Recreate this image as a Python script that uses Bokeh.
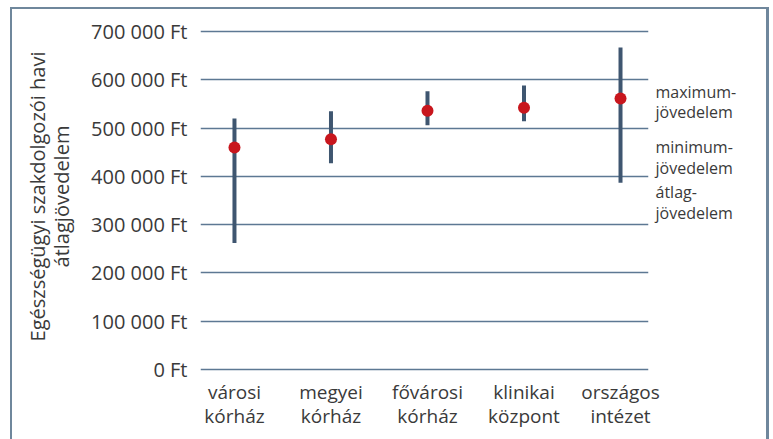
from bokeh.plotting import figure
from bokeh.models import Range1d, FixedTicker, LinearAxis
from bokeh.embed import file_html
from bokeh.resources import INLINE

# ---- data ----
categories = ["városi\nkórház", "megyei\nkórház", "fővárosi\nkórház", "klinikai\nközpont", "országos\nintézet"]
avg_income = [460000, 477000, 536000, 542000, 561000]
min_income = [262000, 427000, 506000, 514000, 387000]
max_income = [520000, 535000, 576000, 588000, 667000]
y_ticks = [0, 100000, 200000, 300000, 400000, 500000, 600000, 700000]
y_tick_labels = ["0 Ft", "100 000 Ft", "200 000 Ft", "300 000 Ft", "400 000 Ft",
                 "500 000 Ft", "600 000 Ft", "700 000 Ft"]
legend_texts = ["maximum-", "jövedelem", "minimum-", "jövedelem", "átlag-", "jövedelem"]
legend_y = [573700, 532300, 459800, 418300, 366600, 325100]

xs = list(range(len(categories)))
FONT = "Open Sans"
TXT = "#3a3a3a"
FRAME = "#6f879c"

p = figure(width=773, height=439, output_backend="svg", toolbar_location=None,
           x_range=Range1d(-0.352, 4.29), y_range=Range1d(-6213, 722781),
           min_border_left=200, min_border_right=125, min_border_top=20, min_border_bottom=67)
p.border_fill_color = None
p.background_fill_color = "white"
p.outline_line_color = None
p.styles = {"box-shadow": (f"inset 10px 0 0 #ffffff, inset 0 7px 0 #ffffff, inset -4px 0 0 #ffffff, "
                           f"inset 12px 0 0 {FRAME}, inset 0 9px 0 {FRAME}, inset -7px 0 0 {FRAME}"),
            "background-color": "white"}

# y axis
p.yaxis.ticker = FixedTicker(ticks=y_ticks)
p.yaxis.major_label_overrides = {t: l for t, l in zip(y_ticks, y_tick_labels)}
p.yaxis.axis_line_color = None
p.yaxis.major_tick_line_color = None
p.yaxis.minor_tick_line_color = None
p.yaxis.major_label_standoff = 7
p.yaxis.major_label_text_font = FONT
p.yaxis.major_label_text_font_size = "20px"
p.yaxis.major_label_text_color = TXT
p.yaxis.axis_label = "Egészségügyi szakdolgozói havi\nátlagjövedelem"
p.yaxis.axis_label_text_font = FONT
p.yaxis.axis_label_text_font_size = "20px"
p.yaxis.axis_label_text_font_style = "normal"
p.yaxis.axis_label_text_color = TXT
p.yaxis.axis_label_text_line_height = 0.88
p.yaxis.axis_label_standoff = 13

# x axis
p.xaxis.ticker = FixedTicker(ticks=xs)
p.xaxis.major_label_overrides = {i: c for i, c in zip(xs, categories)}
p.xaxis.axis_line_color = None
p.xaxis.major_tick_line_color = None
p.xaxis.minor_tick_line_color = None
p.xaxis.major_label_standoff = 0
p.xaxis.major_label_text_font = FONT
p.xaxis.major_label_text_font_size = "19px"
p.xaxis.major_label_text_color = TXT
p.xaxis.major_label_text_line_height = 0.94

p.xgrid.grid_line_color = None
p.ygrid.ticker = FixedTicker(ticks=y_ticks)
p.ygrid.grid_line_color = "#5d7893"
p.ygrid.grid_line_width = 1.6

# text legend on the right (as a label-only axis)
legend_axis = LinearAxis(ticker=FixedTicker(ticks=legend_y),
                         major_label_overrides={v: t for v, t in zip(legend_y, legend_texts)})
legend_axis.axis_line_color = None
legend_axis.major_tick_line_color = None
legend_axis.minor_tick_line_color = None
legend_axis.major_label_standoff = 1
legend_axis.major_label_text_font = FONT
legend_axis.major_label_text_font_size = "16px"
legend_axis.major_label_text_color = TXT
p.add_layout(legend_axis, "right")

# ranges and averages
p.segment(x0=xs, y0=min_income, x1=xs, y1=max_income, line_color="#3f5670", line_width=4)
p.scatter(x=xs, y=avg_income, size=12, fill_color="#c8161d", line_color=None)

open("out.html", "w").write(file_html(p, INLINE))
